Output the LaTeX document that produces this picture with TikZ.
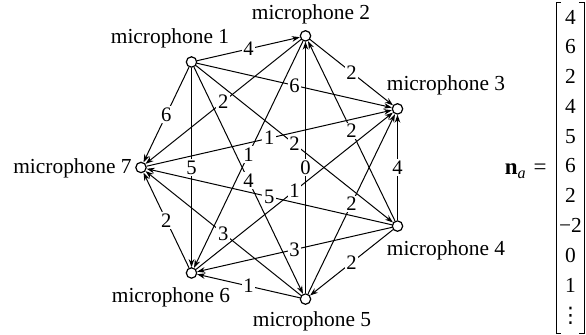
\documentclass[tikz,border=0pt]{standalone}
\usepackage{fontspec}
\setmainfont{Liberation Serif}
\newfontfamily\dvsans{DejaVu Sans}
\usetikzlibrary{arrows.meta}
\begin{document}
\begin{tikzpicture}[x=0.5pt,y=-0.5pt,
  mic/.style={circle,draw,line width=0.6pt,minimum size=5.2pt,inner sep=0pt},
  miclabel/.style={inner sep=0pt,font=\fontsize{10.7}{12}\selectfont},
  wt/.style={fill=white,inner sep=0.8pt,font=\fontsize{10.3}{11}\selectfont},
  arc/.style={line width=0.5pt,-{Stealth[length=4pt,width=2.8pt]}},
  entry/.style={inner sep=0pt,font=\fontsize{10.7}{12}\selectfont},
  brack/.style={line width=0.45pt}]
\useasboundingbox (0,0) rectangle (586,335);
% microphones
\node[mic] (m1) at (191.5,62) {};
\node[mic] (m2) at (305.5,35.9) {};
\node[mic] (m3) at (397.5,108.9) {};
\node[mic] (m4) at (397.5,226.1) {};
\node[mic] (m5) at (305.5,299.1) {};
\node[mic] (m6) at (191.5,273) {};
\node[mic] (m7) at (141,167.5) {};
% labels
\node[miclabel] (l1) at (170,38) {microphone 1};
\node[miclabel] (l2) at (311,14) {microphone 2};
\node[miclabel] (l3) at (446,85) {microphone 3};
\node[miclabel] (l4) at (446,250) {microphone 4};
\node[miclabel] (l5) at (312,321) {microphone 5};
\node[miclabel] (l6) at (171,297) {microphone 6};
\node[miclabel,anchor=east] (l7) at (132,168) {microphone 7};
% edges
\draw[arc] (m1) -- node[wt]{4} (m2);
\draw[arc] (m1) -- node[wt]{6} (m3);
\draw[arc] (m1) -- node[wt]{6} (m7);
\draw[arc] (m1) -- node[wt]{5} (m6);
\draw[arc] (m1) -- node[wt]{4} (m5);
\draw[arc] (m1) -- node[wt]{2} (m4);
\draw[arc] (m2) -- node[wt]{2} (m3);
\draw[arc] (m2) -- node[wt]{2} (m7);
\draw[arc] (m2) -- node[wt]{1} (m6);
\draw[arc] (m5) -- node[wt]{0} (m2);
\draw[arc] (m4) -- node[wt]{2} (m2);
\draw[arc] (m7) -- node[wt]{1} (m3);
\draw[arc] (m6) -- node[wt]{1} (m3);
\draw[arc] (m5) -- node[wt]{2} (m3);
\draw[arc] (m4) -- node[wt]{4} (m3);
\draw[arc] (m4) -- node[wt]{5} (m7);
\draw[arc] (m4) -- node[wt]{3} (m6);
\draw[arc] (m4) -- node[wt]{2} (m5);
\draw[arc] (m5) -- node[wt]{1} (m6);
\draw[arc] (m5) -- node[wt]{3} (m7);
\draw[arc] (m6) -- node[wt]{2} (m7);
% vector
\node[entry,anchor=base east,font=\fontsize{11.5}{13}\selectfont] (na) at (547,175) {\textbf{n}\textsubscript{\textit{a}}\kern3.5pt=};
\draw[brack] (561,2) -- (556,2) -- (556,333) -- (561,333);
\draw[brack] (579,2) -- (584,2) -- (584,333) -- (579,333);
\node[entry] (e0) at (570.5,17) {4};
\node[entry] (e1) at (570.5,46.8) {6};
\node[entry] (e2) at (570.5,76.6) {2};
\node[entry] (e3) at (570.5,106.4) {4};
\node[entry] (e4) at (570.5,136.2) {5};
\node[entry] (e5) at (570.5,166) {6};
\node[entry] (e6) at (570.5,195.8) {2};
\node[entry] (e7) at (570.5,225.6) {−2};
\node[entry] (e8) at (570.5,255.4) {0};
\node[entry] (e9) at (570.5,285.2) {1};
\node[entry] (e10) at (570.5,316) {\dvsans ⋮};
\end{tikzpicture}
\end{document}
